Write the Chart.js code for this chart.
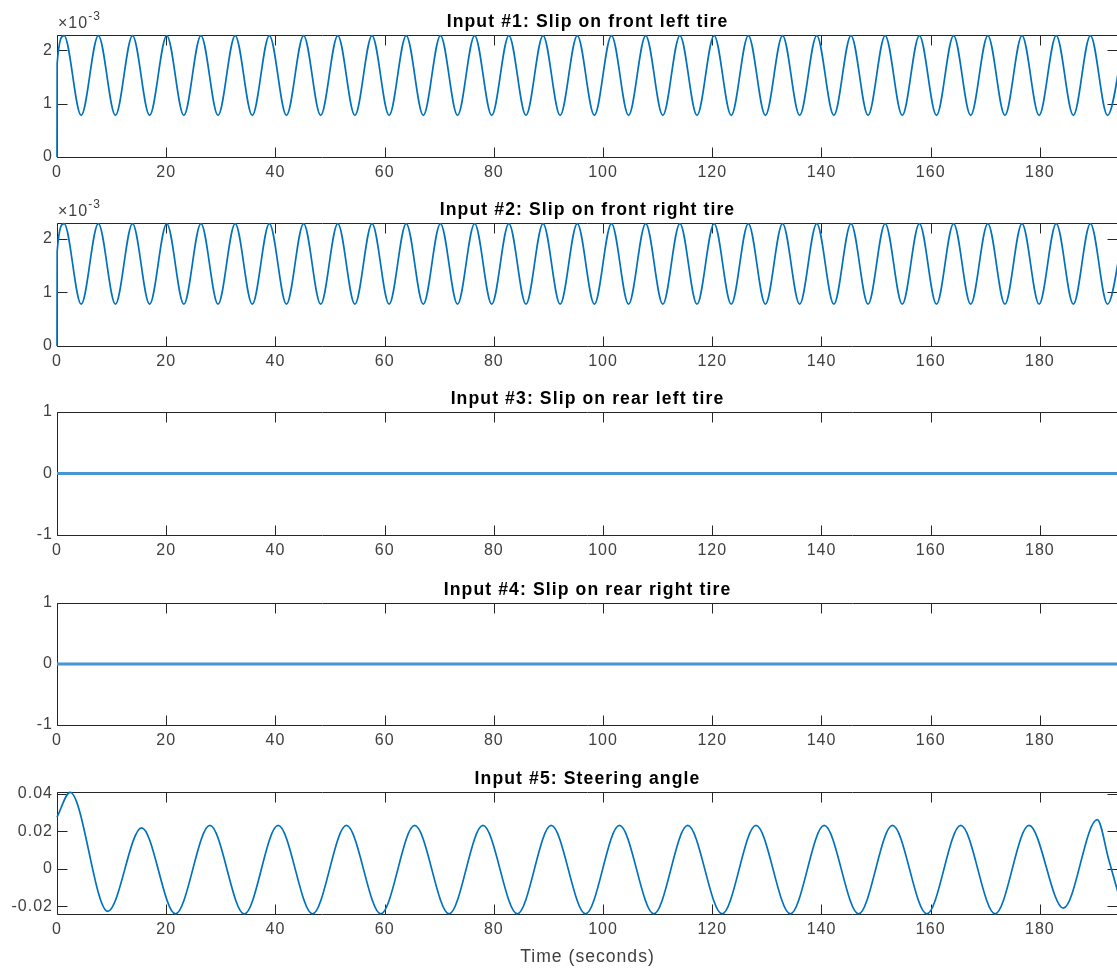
<!DOCTYPE html>
<html>
<head>
<meta charset="utf-8">
<script src="https://cdn.jsdelivr.net/npm/chart.js@4.4.0/dist/chart.umd.min.js"></script>
<style>
  html, body { margin: 0; padding: 0; background: #fff; overflow: hidden; }
  body { width: 1117px; height: 968px; position: relative; }
  canvas { position: absolute; left: 0; }
</style>
</head>
<body>
<canvas id="p1"></canvas>
<canvas id="p2"></canvas>
<canvas id="p3"></canvas>
<canvas id="p4"></canvas>
<canvas id="p5"></canvas>
<script>
// ── Data ──────────────────────────────────────────────────────────────────────
// front tire slip: start jump, then alternating peaks / troughs
const slipTime = [
    0, 0.03,
    1.3, 4.43, 7.57, 10.7, 13.83, 16.96, 20.1, 23.23, 26.36, 29.49,
    32.63, 35.76, 38.89, 42.02, 45.16, 48.29, 51.42, 54.55, 57.69, 60.82,
    63.95, 67.08, 70.22, 73.35, 76.48, 79.61, 82.75, 85.88, 89.01, 92.14,
    95.28, 98.41, 101.54, 104.67, 107.81, 110.94, 114.07, 117.2, 120.34, 123.47,
    126.6, 129.73, 132.87, 136.0, 139.13, 142.26, 145.4, 148.53, 151.66, 154.79,
    157.93, 161.06, 164.19, 167.32, 170.46, 173.59, 176.72, 179.85, 182.99, 186.12,
    189.25, 192.38, 195.52
];
const slipFrontLeft = [
    0, 0.00176,
    0.00228, 0.00078, 0.00228, 0.00078, 0.00228, 0.00078, 0.00228, 0.00078, 0.00228, 0.00078,
    0.00228, 0.00078, 0.00228, 0.00078, 0.00228, 0.00078, 0.00228, 0.00078, 0.00228, 0.00078,
    0.00228, 0.00078, 0.00228, 0.00078, 0.00228, 0.00078, 0.00228, 0.00078, 0.00228, 0.00078,
    0.00228, 0.00078, 0.00228, 0.00078, 0.00228, 0.00078, 0.00228, 0.00078, 0.00228, 0.00078,
    0.00228, 0.00078, 0.00228, 0.00078, 0.00228, 0.00078, 0.00228, 0.00078, 0.00228, 0.00078,
    0.00228, 0.00078, 0.00228, 0.00078, 0.00228, 0.00078, 0.00228, 0.00078, 0.00228, 0.00078,
    0.00228, 0.00078, 0.00228
];
const slipFrontRight = [
    0, 0.00176,
    0.00228, 0.00078, 0.00228, 0.00078, 0.00228, 0.00078, 0.00228, 0.00078, 0.00228, 0.00078,
    0.00228, 0.00078, 0.00228, 0.00078, 0.00228, 0.00078, 0.00228, 0.00078, 0.00228, 0.00078,
    0.00228, 0.00078, 0.00228, 0.00078, 0.00228, 0.00078, 0.00228, 0.00078, 0.00228, 0.00078,
    0.00228, 0.00078, 0.00228, 0.00078, 0.00228, 0.00078, 0.00228, 0.00078, 0.00228, 0.00078,
    0.00228, 0.00078, 0.00228, 0.00078, 0.00228, 0.00078, 0.00228, 0.00078, 0.00228, 0.00078,
    0.00228, 0.00078, 0.00228, 0.00078, 0.00228, 0.00078, 0.00228, 0.00078, 0.00228, 0.00078,
    0.00228, 0.00078, 0.00228
];

const rearTime = [0, 194.3];
const slipRearLeft = [0, 0];
const slipRearRight = [0, 0];

const steerTime = [
    0, 2.4, 9.3, 15.5, 21.7, 28.0, 34.3, 40.5, 46.8, 53.0, 59.3, 65.5,
    71.8, 78.0, 84.3, 90.5, 96.8, 103.0, 109.3, 115.5, 121.8, 128.0, 134.3,
    140.5, 146.8, 153.0, 159.3, 165.5, 171.8, 178.0, 184.3, 190.5, 192.6, 194.3
];
const steerAngle = [
    0.0276, 0.0408, -0.0226, 0.0219, -0.0239, 0.0232, -0.0240, 0.0232, -0.0239, 0.0232, -0.0239, 0.0232,
    -0.0239, 0.0232, -0.0239, 0.0232, -0.0239, 0.0232, -0.0239, 0.0232, -0.0239, 0.0232, -0.0239,
    0.0232, -0.0239, 0.0232, -0.0239, 0.0232, -0.0239, 0.0232, -0.0209, 0.0263, 0.0050, -0.0125
];

const timeTicks = [0, 20, 40, 60, 80, 100, 120, 140, 160, 180];
const slipTicks = [0, 0.001, 0.002];
const slipTickLabels = ['0', '1', '2'];
const zeroTicks = [-1, 0, 1];
const zeroTickLabels = ['-1', '0', '1'];
const steerTicks = [-0.02, 0, 0.02, 0.04];
const steerTickLabels = ['-0.02', '0', '0.02', '0.04'];

const titles = [
    'Input #1: Slip on front left tire',
    'Input #2: Slip on front right tire',
    'Input #3: Slip on rear left tire',
    'Input #4: Slip on rear right tire',
    'Input #5: Steering angle'
];

// ── Styling ──────────────────────────────────────────────────────────────────
const FONT = '"Liberation Sans", Arial, Helvetica, sans-serif';
const AXIS = '#262626';
const LABEL = '#404040';
const LINE = '#0072BD';
const TICK_LEN = 10;
const PAD_TOP = 35;

// axes boxes in page pixels
const plotTops = [35, 223, 412, 603, 792];
const plotBottoms = [157, 346, 535, 725, 914];

// inner ticks + box under the data, title and exponent on top (MATLAB style)
const matlabAxes = {
    id: 'matlabAxes',
    beforeDraw(chart) {
        chart.ctx.letterSpacing = '1px';
    },
    beforeDatasetsDraw(chart) {
        const { ctx, chartArea: a, scales: { x, y } } = chart;
        const l = Math.round(a.left) + 0.5, r = Math.round(a.right) - 0.5;
        const t = Math.round(a.top) + 0.5, b = Math.round(a.bottom) + 0.5;
        ctx.save();
        ctx.strokeStyle = AXIS;
        ctx.lineWidth = 1;
        ctx.beginPath();
        x.ticks.forEach(tk => {
            const px = Math.round(x.getPixelForValue(tk.value)) + 0.5;
            ctx.moveTo(px, b); ctx.lineTo(px, b - TICK_LEN);
            ctx.moveTo(px, t); ctx.lineTo(px, t + TICK_LEN);
        });
        y.ticks.forEach(tk => {
            const py = Math.round(y.getPixelForValue(tk.value)) + 0.5;
            ctx.moveTo(l, py); ctx.lineTo(l + TICK_LEN, py);
            ctx.moveTo(r, py); ctx.lineTo(r - TICK_LEN, py);
        });
        ctx.rect(l, t, r - l, b - t);
        ctx.stroke();
        ctx.restore();
    },
    afterDraw(chart, args, opts) {
        const { ctx, chartArea: a } = chart;
        ctx.save();
        // title
        ctx.letterSpacing = '1.1px';
        ctx.fillStyle = '#000';
        ctx.font = 'bold 17.6px ' + FONT;
        ctx.textAlign = 'center';
        ctx.textBaseline = 'alphabetic';
        ctx.fillText(opts.title, (a.left + a.right) / 2, a.top - 8.5);

        // ×10^-3 multiplier
        if (opts.exponent) {
            ctx.letterSpacing = '1px';
            ctx.fillStyle = LABEL;
            ctx.textAlign = 'left';
            ctx.font = '16px ' + FONT;
            const base = '\u00d710';
            ctx.fillText(base, a.left + 1, a.top - 7);
            const w = ctx.measureText(base).width;
            ctx.font = '12px ' + FONT;
            ctx.fillText(opts.exponent, a.left + 1 + w, a.top - 15);
        }
        ctx.restore();
    }
};

function makePlot(idx, time, values, yMin, yMax, yTicks, yLabels, opts) {
    const canvas = document.getElementById('p' + (idx + 1));
    const last = idx === 4;
    const xh = last ? 968 - plotBottoms[idx] : 32;
    const top = plotTops[idx] - PAD_TOP;
    const height = PAD_TOP + (plotBottoms[idx] - plotTops[idx]) + xh;
    canvas.width = 1118;
    canvas.height = height;
    canvas.style.top = top + 'px';
    canvas.style.width = '1118px';
    canvas.style.height = height + 'px';

    const tickFont = { family: FONT, size: 16 };

    return new Chart(canvas, {
        type: 'line',
        data: {
            datasets: [{
                data: time.map((t, i) => ({ x: t, y: values[i] })),
                borderColor: opts.color || LINE,
                borderWidth: opts.width || 1.7,
                pointRadius: 0,
                fill: false,
                clip: 3,
                cubicInterpolationMode: 'monotone',
            }]
        },
        options: {
            responsive: false,
            animation: false,
            devicePixelRatio: 1,
            layout: { padding: { top: PAD_TOP, left: 0, right: 0, bottom: 0 } },
            plugins: {
                legend: { display: false },
                tooltip: { enabled: false },
                matlabAxes: { title: titles[idx], exponent: opts.exponent || null },
            },
            scales: {
                x: {
                    type: 'linear',
                    min: 0,
                    max: 194.3,
                    afterBuildTicks: (s) => { s.ticks = timeTicks.map(v => ({ value: v })); },
                    afterFit: (s) => { s.height = xh; },
                    grid: { display: false, drawTicks: false },
                    border: { display: false },
                    ticks: {
                        padding: 6,
                        color: LABEL,
                        font: tickFont,
                        maxRotation: 0,
                        autoSkip: false,
                        callback: (v) => String(v),
                    },
                    title: {
                        display: last,
                        text: 'Time (seconds)',
                        color: LABEL,
                        font: { family: FONT, size: 17.6 },
                        padding: { top: 0, bottom: 0 },
                    }
                },
                y: {
                    type: 'linear',
                    min: yMin,
                    max: yMax,
                    afterBuildTicks: (s) => { s.ticks = yTicks.map(v => ({ value: v })); },
                    afterFit: (s) => { s.width = 57; },
                    grid: { display: false, drawTicks: false },
                    border: { display: false },
                    ticks: {
                        padding: 4,
                        color: LABEL,
                        font: tickFont,
                        callback: (v) => yLabels[yTicks.indexOf(v)],
                    }
                }
            }
        },
        plugins: [matlabAxes]
    });
}

makePlot(0, slipTime, slipFrontLeft, 0, 0.00229, slipTicks, slipTickLabels, { exponent: '-3' });
makePlot(1, slipTime, slipFrontRight, 0, 0.00229, slipTicks, slipTickLabels, { exponent: '-3' });
makePlot(2, rearTime, slipRearLeft, -1, 1, zeroTicks, zeroTickLabels, { color: '#4596d3', width: 2.8 });
makePlot(3, rearTime, slipRearRight, -1, 1, zeroTicks, zeroTickLabels, { color: '#4596d3', width: 2.8 });
makePlot(4, steerTime, steerAngle, -0.024, 0.041, steerTicks, steerTickLabels, {});
</script>
</body>
</html>
